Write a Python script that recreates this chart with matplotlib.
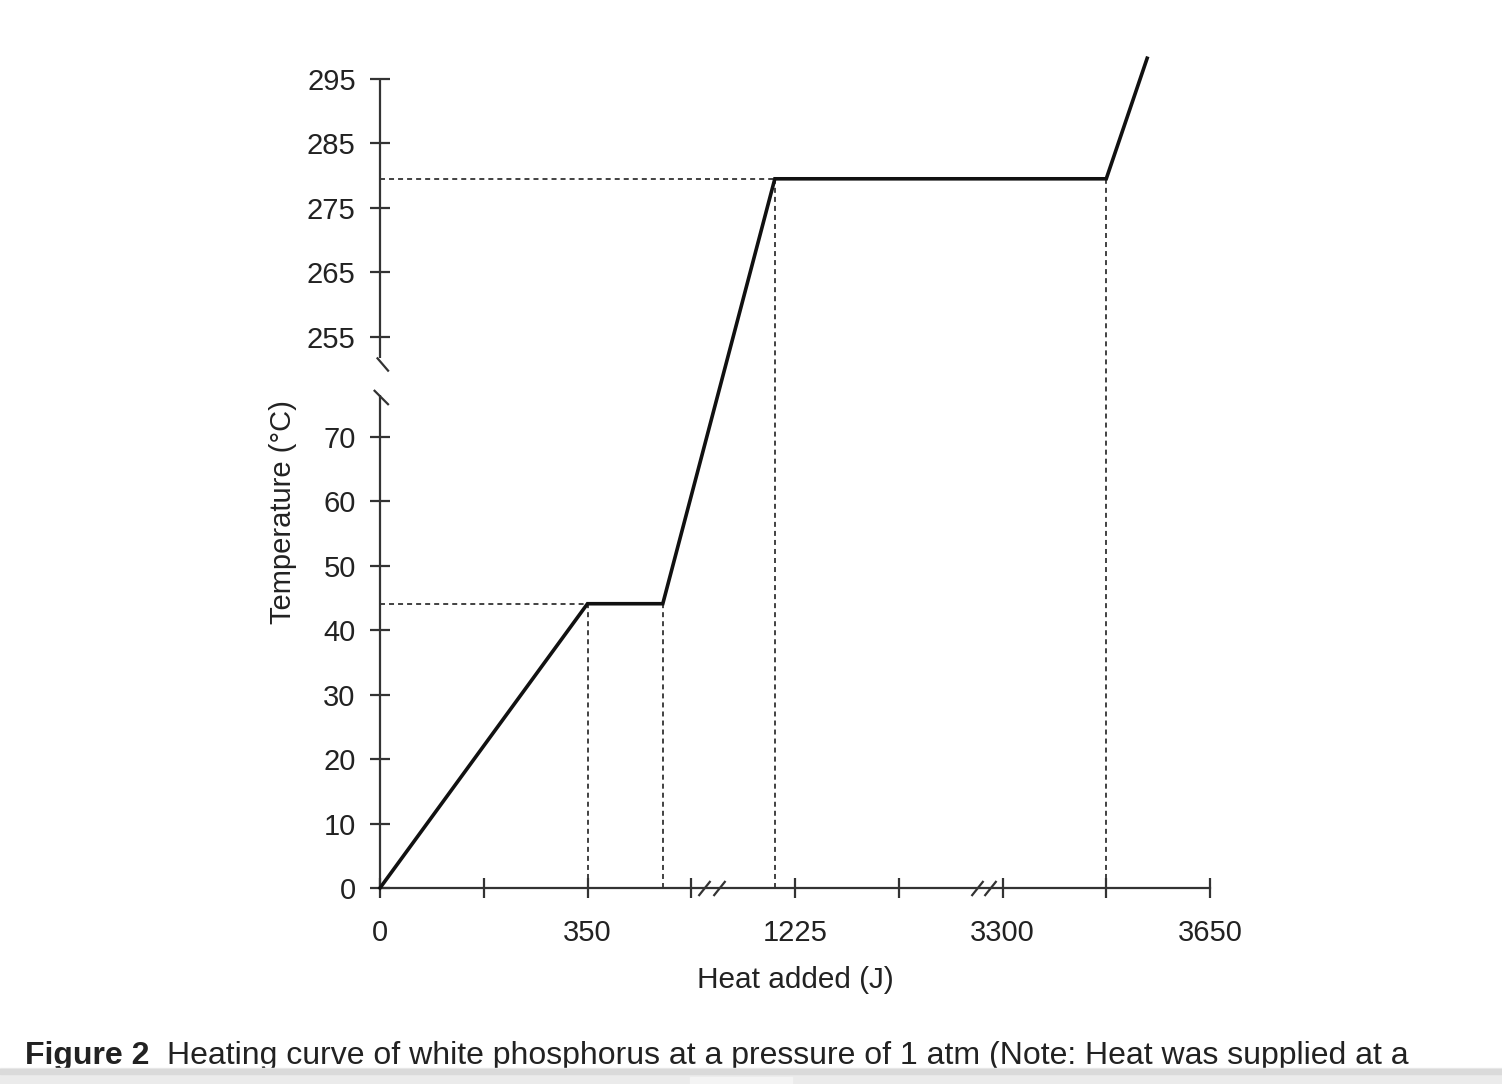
import numpy as np
import matplotlib
matplotlib.use('Agg')
import matplotlib.pyplot as plt
import matplotlib.patches as mpatches

plt.rcParams['font.family'] = ['Liberation Sans', 'DejaVu Sans']
plt.rcParams['lines.scale_dashes'] = False

# heating curve of white phosphorus (heat in J, temperature in degC)
heat = [0, 350, 477, 1191, 3475, 3544]
temp = [0, 44.1, 44.1, 279.5, 279.5, 298.2]

# dashed guide lines: melting and boiling plateaus
plateau_temp = [44.1, 279.5]
plateau_start = [350, 1191]
plateau_end = [477, 3475]

x_ticks = [0, 175, 350, 525, 1225, 1400, 3300, 3475, 3650]
x_labels = ['0', '', '350', '', '1225', '', '3300', '', '3650']
y_ticks = [0, 10, 20, 30, 40, 50, 60, 70, 255, 265, 275, 285, 295]
y_labels = [str(v) for v in y_ticks]

# ---- broken axis scales (piecewise linear, 175 J / 10 degC per unit) ----
xk_p = [-60, 0, 3.21, 3.2101, 5.83, 5.8301, 110]
def _xseg(p):
    if p <= 3.21:
        return 175 * p
    elif p <= 5.83:
        return 1225 + 175 * (p - 4)
    return 3300 + 175 * (p - 6)
xk_d = [_xseg(p) for p in xk_p]
xk_d[0] = -60 * 175

yk_p = [-100, 0, 7.946, 7.947, 300]
def _yseg(p):
    if p <= 7.946:
        return 10 * p
    return 255 + 10 * (p - 8.552)
yk_d = [_yseg(p) for p in yk_p]


def xfwd(d):
    return np.interp(d, xk_d, xk_p)


def xinv(p):
    return np.interp(p, xk_p, xk_d)


def yfwd(d):
    return np.interp(d, yk_d, yk_p)


def yinv(p):
    return np.interp(p, yk_p, yk_d)


W, H = 1502, 1084
fig = plt.figure(figsize=(W / 100, H / 100), dpi=100)
ax = fig.add_axes([380 / W, (H - 888) / H, (1210 - 380) / W, (888 - 50) / H])
ax.set_xscale('function', functions=(xfwd, xinv))
ax.set_yscale('function', functions=(yfwd, yinv))
ax.set_xlim(0, 3650)
ax.set_ylim(0, yinv(13.0))

ink = '#222222'
axc = '#333333'

ax.plot(heat, temp, color='#111111', lw=2.6, solid_joinstyle='miter', zorder=4, clip_on=False)

for t, x0, x1 in zip(plateau_temp, plateau_start, plateau_end):
    ax.hlines(t, 0, x0, colors=axc, lw=1.3, linestyles=(0, (3.6, 2.9)), zorder=2)
    ax.vlines([x0, x1], 0, t, colors=axc, lw=1.3, linestyles=(0, (3.6, 2.9)), zorder=2)

# axes lines
for s in ['top', 'right', 'left']:
    ax.spines[s].set_visible(False)
ax.spines['bottom'].set_bounds(0, 3650)
ax.spines['bottom'].set_linewidth(1.6)
ax.spines['bottom'].set_color(axc)
ax.plot([0, 0], [0, yinv(7.652)], color=axc, lw=1.6, clip_on=False, solid_capstyle='butt')
ax.plot([0, 0], [yinv(8.226), 295], color=axc, lw=1.6, clip_on=False, solid_capstyle='butt')

# break marks on y axis
ms_k = 0.72
ax.plot([0], [yinv(8.133)], marker=[(-3.7, 7), (8.3, -7)], markersize=2 * 8.3 * ms_k,
        mec=axc, mew=1.6, ls='none', clip_on=False)
ax.plot([0], [yinv(7.613)], marker=[(-6.7, 7.5), (8.3, -7.5)], markersize=2 * 8.3 * ms_k,
        mec=axc, mew=1.6, ls='none', clip_on=False)
# break marks on x axis
for p in [3.123, 3.267, 5.754, 5.879]:
    ax.plot([xinv(p)], [0], marker=[(-6, -7.5), (6, 7.5)], markersize=2 * 7.5 * ms_k,
            mec=axc, mew=1.6, ls='none', clip_on=False)

ax.set_xticks(x_ticks)
ax.set_xticklabels(x_labels)
ax.set_yticks(y_ticks)
ax.set_yticklabels(y_labels)
ax.xaxis.set_minor_locator(matplotlib.ticker.NullLocator())
ax.yaxis.set_minor_locator(matplotlib.ticker.NullLocator())
ax.tick_params(axis='both', direction='inout', length=15, width=1.6, color=axc,
               labelsize=21, labelcolor=ink)
ax.tick_params(axis='x', pad=14.5)
ax.tick_params(axis='y', pad=10)

fig.text(795 / W, 1 - 980 / H, 'Heat added (J)', fontsize=21.4, color=ink, ha='center', va='center')
fig.text(283 / W, 1 - 512 / H, 'Temperature (°C)', fontsize=21, color=ink, ha='center', va='center',
         rotation=90)

# caption (cut off by the page edge)
fig.text(25 / W, 1 - 1064 / H, 'Figure 2', fontsize=23, weight='bold', color=ink, va='baseline')
fig.text(167 / W, 1 - 1064 / H,
         'Heating curve of white phosphorus at a pressure of 1 atm (Note: Heat was supplied at a',
         fontsize=23, color=ink, va='baseline')

fig.patches.append(mpatches.Rectangle((0, 0), 1, (H - 1068) / H, transform=fig.transFigure,
                                      color='#ebebeb', zorder=10))
fig.patches.append(mpatches.Rectangle((0, (H - 1074) / H), 1, 5 / H, transform=fig.transFigure,
                                      color='#dadada', zorder=10))
fig.patches.append(mpatches.Rectangle((690 / W, 0), 102 / W, (H - 1077) / H, transform=fig.transFigure,
                                      color='#f4f4f4', zorder=11))

fig.savefig('out.png', dpi=100)
